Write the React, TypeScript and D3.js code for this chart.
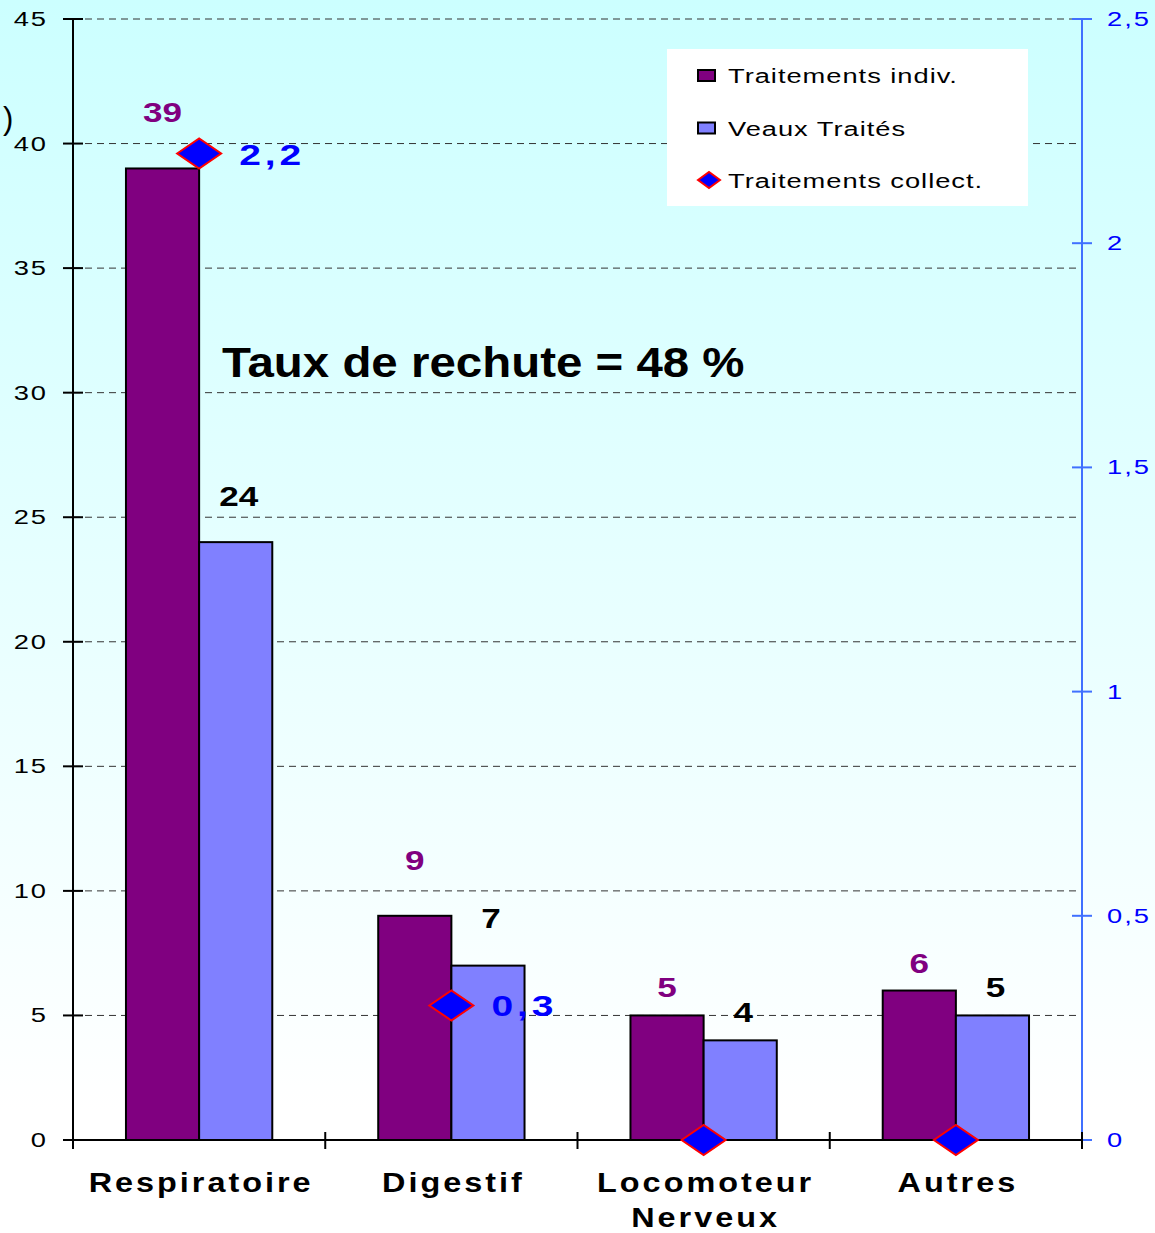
import React from "react";
import * as d3 from "d3";

const categories = ["Respiratoire", "Digestif", "Locomoteur\nNerveux", "Autres"];
const traitementsIndiv = [39, 9, 5, 6];
const veauxTraites = [24, 7, 4, 5];
const traitementsCollect = [2.2, 0.3, 0, 0];
const collectLabels = ["2,2", "0,3", "", ""];
const leftTicks = [0, 5, 10, 15, 20, 25, 30, 35, 40, 45];
const rightTicks = [0, 0.5, 1, 1.5, 2, 2.5];
const rightTickLabels = ["0", "0,5", "1", "1,5", "2", "2,5"];
const seriesNames = ["Traitements indiv.", "Veaux Traités", "Traitements collect."];
// extra lift of value labels above bar tops (px)
const indivLabelLift = [46, 46, 18, 18];
const veauxLabelLift = [36, 38, 18, 18];

const W = 1155;
const H = 1233;
const M = { left: 73, right: 1082, top: 19, bottom: 1140 };
const SX = 1.3;

type STProps = {
  x: number;
  y: number;
  sx?: number;
  anchor?: "start" | "middle" | "end";
  size: number;
  weight?: string;
  fill: string;
  ls?: number;
  children: React.ReactNode;
};

function ST({ x, y, sx = SX, anchor = "start", size, weight = "normal", fill, ls = 0, children }: STProps) {
  return (
    <text
      transform={`translate(${x},${y}) scale(${sx},1)`}
      textAnchor={anchor}
      fontSize={size}
      fontWeight={weight}
      fill={fill}
      letterSpacing={ls}
    >
      {children}
    </text>
  );
}

export default function App() {
  const x = d3.scaleBand<string>().domain(categories).range([M.left, M.right]).padding(0);
  const yL = d3.scaleLinear().domain([0, 45]).range([M.bottom, M.top]);
  const yR = d3.scaleLinear().domain([0, 2.5]).range([M.bottom, M.top]);
  const bw = x.bandwidth() * 0.29;
  const inner = d3.scaleBand<string>().domain(["i", "v"]).range([-bw, bw]).padding(0);
  const cx = (c: string) => (x(c) as number) + x.bandwidth() / 2;
  const font = "'Liberation Sans', Arial, sans-serif";

  return (
    <svg width={W} height={H} style={{ position: "absolute", left: 0, top: 0, display: "block" }} fontFamily={font}>
      <defs>
        <linearGradient id="bg" x1="0" y1="0" x2="0" y2="1">
          <stop offset="0" stopColor="#ccffff" />
          <stop offset="0.9" stopColor="#ffffff" />
          <stop offset="1" stopColor="#ffffff" />
        </linearGradient>
      </defs>
      <rect x={0} y={0} width={W} height={H} fill="url(#bg)" />

      {/* partial axis title */}
      <text x={3} y={129} fontSize={31} fill="#000">)</text>

      {/* gridlines */}
      {leftTicks.filter((t) => t > 0).map((t) => (
        <line key={"g" + t} x1={M.left} x2={M.right} y1={yL(t)} y2={yL(t)} stroke="#333" strokeWidth={1} strokeDasharray="7,5" />
      ))}

      {/* bars */}
      {categories.map((c, i) => (
        <g key={"b" + c}>
          <rect x={cx(c) + (inner("i") as number)} y={yL(traitementsIndiv[i])} width={bw} height={M.bottom - yL(traitementsIndiv[i])} fill="#800080" stroke="#000" strokeWidth={2} />
          <rect x={cx(c) + (inner("v") as number)} y={yL(veauxTraites[i])} width={bw} height={M.bottom - yL(veauxTraites[i])} fill="#8080ff" stroke="#000" strokeWidth={2} />
          <ST x={cx(c) + (inner("i") as number) + bw / 2} y={yL(traitementsIndiv[i]) - indivLabelLift[i]} anchor="middle" size={27} weight="bold" fill="#800080">{traitementsIndiv[i]}</ST>
          <ST x={cx(c) + (inner("v") as number) + bw / 2 + 3} y={yL(veauxTraites[i]) - veauxLabelLift[i]} anchor="middle" size={27} weight="bold" fill="#000">{veauxTraites[i]}</ST>
        </g>
      ))}

      {/* left axis */}
      <line x1={M.left} x2={M.left} y1={M.top} y2={M.bottom} stroke="#000" strokeWidth={2} />
      {leftTicks.map((t) => (
        <g key={"l" + t}>
          <line x1={M.left - 10} x2={M.left + 10} y1={yL(t)} y2={yL(t)} stroke="#000" strokeWidth={2} />
          <ST x={48} y={yL(t) + 7} anchor="end" size={21} fill="#000" ls={1.5}>{t}</ST>
        </g>
      ))}

      {/* right axis */}
      <line x1={M.right} x2={M.right} y1={M.top} y2={M.bottom} stroke="#4070ff" strokeWidth={2} />
      {rightTicks.map((t, i) => (
        <g key={"r" + t}>
          <line x1={M.right - 10} x2={M.right + 10} y1={yR(t)} y2={yR(t)} stroke="#4070ff" strokeWidth={2} />
          <ST x={1107} y={yR(t) + 7} anchor="start" size={21} fill="#0000ff" ls={1.5}>{rightTickLabels[i]}</ST>
        </g>
      ))}

      {/* x axis */}
      <line x1={M.left} x2={M.right} y1={M.bottom} y2={M.bottom} stroke="#000" strokeWidth={2} />
      {[...categories.map((c) => x(c) as number), M.right].map((p, i) => (
        <line key={"xt" + i} x1={p} x2={p} y1={M.bottom - 8} y2={M.bottom + 9} stroke="#000" strokeWidth={2} />
      ))}
      {categories.map((c) =>
        c.split("\n").map((ln, j) => (
          <ST key={"xl" + c + j} x={cx(c) + 2} y={1192 + j * 35} sx={1.2} anchor="middle" size={27} weight="bold" fill="#000" ls={2.5}>{ln}</ST>
        ))
      )}

      {/* collective treatments diamonds */}
      {categories.map((c, i) => {
        const px = cx(c);
        const py = yR(traitementsCollect[i]);
        return (
          <g key={"d" + c}>
            <path d={`M${px - 22},${py} L${px},${py - 15} L${px + 22},${py} L${px},${py + 15} Z`} fill="#0000ff" stroke="#ff0000" strokeWidth={2} />
            {collectLabels[i] && (
              <ST x={px + 40} y={py + 11} size={30} weight="bold" fill="#0000ff" ls={3}>{collectLabels[i]}</ST>
            )}
          </g>
        );
      })}

      {/* annotation */}
      <ST x={222} y={377} sx={1.13} size={42} weight="bold" fill="#000">Taux de rechute = 48 %</ST>

      {/* legend */}
      <rect x={667} y={49} width={361} height={157} fill="#ffffff" />
      {seriesNames.map((s, i) => {
        const ly = 75 + i * 52.5;
        return (
          <g key={"lg" + s}>
            {i === 0 && <rect x={698} y={ly - 5} width={17} height={11} fill="#800080" stroke="#000" strokeWidth={2} />}
            {i === 1 && <rect x={698} y={ly - 5} width={17} height={11} fill="#8080ff" stroke="#000" strokeWidth={2} />}
            {i === 2 && <path d={`M${698},${ly} L${709},${ly - 8} L${720},${ly} L${709},${ly + 8} Z`} fill="#0000ff" stroke="#ff0000" strokeWidth={2} />}
            <ST x={728} y={ly + 8} size={21} fill="#000" ls={0.75}>{s}</ST>
          </g>
        );
      })}
    </svg>
  );
}
